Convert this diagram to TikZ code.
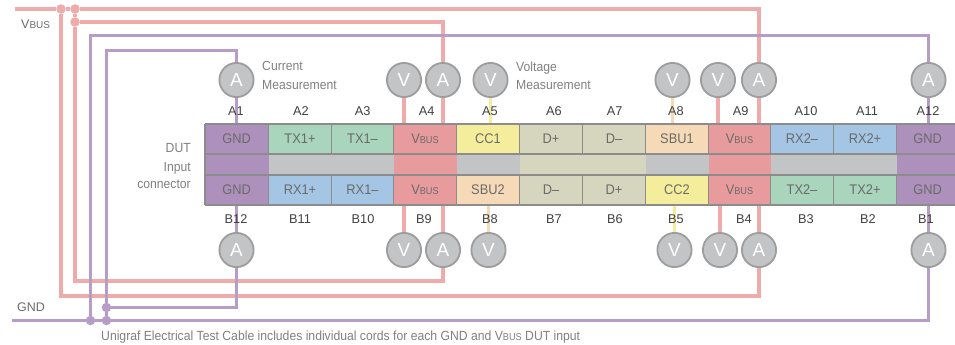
\documentclass[tikz,border=0pt]{standalone}
\usepackage{fontspec}
\setmainfont{Liberation Sans}
\newfontfamily\narrowf[FakeStretch=0.92]{Liberation Sans}
\usetikzlibrary{backgrounds}
\definecolor{wpink}{HTML}{EFAAAA}
\definecolor{wpurple}{HTML}{B89CC8}
\definecolor{cpink}{HTML}{E89B9D}
\definecolor{cpurple}{HTML}{AE90BC}
\definecolor{cgreen}{HTML}{A9D5BC}
\definecolor{cblue}{HTML}{A4C6E4}
\definecolor{cyellow}{HTML}{F4EE9C}
\definecolor{corange}{HTML}{F6DAB8}
\definecolor{colive}{HTML}{D6D6BE}
\definecolor{cgray}{HTML}{C3C4C6}
\definecolor{rulegray}{HTML}{8C8C8C}
\definecolor{txtgray}{HTML}{6A6A6A}
\newcommand{\vbus}{V{\fontsize{10}{10}\selectfont BUS}}
\newcommand{\pcell}[7]{\path (#2,#4) -- (#3,#5) node[midway,cellbox,fill=#6,minimum width={(#3-#2)*1bp},minimum height={(#5-#4)*1bp}] (#1) {#7};}
\tikzset{
  cellbox/.style={inner sep=0pt,text=txtgray,font=\narrowf\fontsize{14}{14}\selectfont},
  meter/.style={circle,draw=rulegray!85,fill=cgray,line width=1.8bp,minimum size=34.2bp,inner sep=0pt,text=white,font=\fontsize{19}{20}\selectfont},
  pinlabel/.style={text=black!75,font=\fontsize{12.8}{14}\selectfont,inner sep=0pt},
  note/.style={text=txtgray!85,font=\narrowf\fontsize{13.3}{14}\selectfont,inner sep=0pt},
  rule/.style={draw=rulegray,line width=2bp},
  pinkwire/.style={draw=wpink,line width=4bp},
  purplewire/.style={draw=wpurple,line width=3bp},
  yellowwire/.style={draw=cyellow,line width=3bp},
  orangewire/.style={draw=corange,line width=3bp},
  pinkdot/.style={circle,fill=wpink,inner sep=0pt,minimum size=9.5bp},
  purpledot/.style={circle,fill=wpurple,inner sep=0pt,minimum size=9.5bp}
}
\begin{document}
\begin{tikzpicture}[x=1bp,y=-1bp]
\useasboundingbox (0,0) rectangle (955,344);
% top row
\pcell{a1}{205}{268.5}{124}{154}{cpurple}{GND}
\pcell{a2}{268.5}{331.5}{124}{154}{cgreen}{TX1+}
\pcell{a3}{331.5}{393.5}{124}{154}{cgreen}{TX1–}
\pcell{a4}{393.5}{456.5}{124}{154}{cpink}{\vbus}
\pcell{a5}{456.5}{519.5}{124}{154}{cyellow}{CC1}
\pcell{a6}{519.5}{582.5}{124}{154}{colive}{D+}
\pcell{a7}{582.5}{645.5}{124}{154}{colive}{D–}
\pcell{a8}{645.5}{708.5}{124}{154}{corange}{SBU1}
\pcell{a9}{708.5}{770.5}{124}{154}{cpink}{\vbus}
\pcell{a10}{770.5}{833.5}{124}{154}{cblue}{RX2–}
\pcell{a11}{833.5}{896.5}{124}{154}{cblue}{RX2+}
\pcell{a12}{896.5}{955}{124}{154}{cpurple}{\hspace*{4pt}GND}
% middle strip
\pcell{m1}{205}{268.5}{154}{175}{cpurple}{}
\pcell{m2}{268.5}{393.5}{154}{175}{cgray}{}
\pcell{m3}{393.5}{456.5}{154}{175}{cpink}{}
\pcell{m4}{456.5}{519.5}{154}{175}{cgray}{}
\pcell{m5}{519.5}{645.5}{154}{175}{colive}{}
\pcell{m6}{645.5}{708.5}{154}{175}{cgray}{}
\pcell{m7}{708.5}{770.5}{154}{175}{cpink}{}
\pcell{m8}{770.5}{896.5}{154}{175}{cgray}{}
\pcell{m9}{896.5}{955}{154}{175}{cpurple}{}
% bottom row
\pcell{b12}{205}{268.5}{175}{205}{cpurple}{GND}
\pcell{b11}{268.5}{331.5}{175}{205}{cblue}{RX1+}
\pcell{b10}{331.5}{393.5}{175}{205}{cblue}{RX1–}
\pcell{b9}{393.5}{456.5}{175}{205}{cpink}{\vbus}
\pcell{b8}{456.5}{519.5}{175}{205}{corange}{SBU2}
\pcell{b7}{519.5}{582.5}{175}{205}{colive}{D–}
\pcell{b6}{582.5}{645.5}{175}{205}{colive}{D+}
\pcell{b5}{645.5}{708.5}{175}{205}{cyellow}{CC2}
\pcell{b4}{708.5}{770.5}{175}{205}{cpink}{\vbus}
\pcell{b3}{770.5}{833.5}{175}{205}{cgreen}{TX2–}
\pcell{b2}{833.5}{896.5}{175}{205}{cgreen}{TX2+}
\pcell{b1}{896.5}{955}{175}{205}{cpurple}{\hspace*{4pt}GND}
% rules
\foreach \n in {a1,a2,a3,a4,a5,a6,a7,a8,a9,a10,a11,b12,b11,b10,b9,b8,b7,b6,b5,b4,b3,b2}
  \draw[rule,line width=1bp] (\n.north east) -- (\n.south east);
\draw[rule] (a1.north west) -- (a12.north east);
\draw[rule] (a1.south west) -- (a12.south east);
\draw[rule] (b12.north west) -- (b1.north east);
\draw[rule] (b12.south west) -- (b1.south east);
\draw[rule] (a1.north west) -- (b12.south west);
% meters
\node[meter] (mA1) at (236.5,80) {A};
\node[meter] (mV4) at (404,80) {V};
\node[meter] (mA4) at (443,80) {A};
\node[meter] (mV5) at (490.5,80) {V};
\node[meter] (mV8) at (672.5,80) {V};
\node[meter] (mV9) at (718,80) {V};
\node[meter] (mA9) at (759,80) {A};
\node[meter] (mA12) at (928.5,80) {A};
\node[meter] (nA12) at (236.5,250) {A};
\node[meter] (nV9) at (404,250) {V};
\node[meter] (nA9) at (443,250) {A};
\node[meter] (nV8) at (488.5,250) {V};
\node[meter] (nV5) at (674.5,250) {V};
\node[meter] (nV4) at (720,250) {V};
\node[meter] (nA4) at (759,250) {A};
\node[meter] (nA1) at (928.5,250) {A};
% junctions and free ends
\coordinate (vbusIn) at (15,9);
\coordinate (gndIn) at (12,320.5);
\node[pinkdot] (p1) at (61,9) {};
\node[pinkdot] (p2) at (75,9) {};
\node[pinkdot] (p3) at (75,22) {};
\node[purpledot] (g1) at (90.5,320.5) {};
\node[purpledot] (g2) at (106.5,320.5) {};
\node[purpledot] (g3) at (106.5,307.5) {};
\coordinate (rPink1) at (61,296);
\coordinate (rPink2) at (75,281);
\coordinate (rPur1) at (90.5,35.5);
\coordinate (rPur2) at (106.5,50.5);
% connectors
\begin{pgfonlayer}{background}
\draw[pinkwire] (vbusIn) -- (p1) -- (p2) -| (mA9.north);
\draw[pinkwire] (p3) -| (mA4.north);
\draw[pinkwire] (p2) -- (p3) -- (rPink2) -| (nA9.south);
\draw[pinkwire] (p1) -- (rPink1) -| (nA4.south);
\draw[purplewire] (gndIn) -- (g1) -- (g2) -| (nA1.south);
\draw[purplewire] (g1) -- (rPur1) -| (mA12.north);
\draw[purplewire] (g2) -- (g3) -- (rPur2) -| (mA1.north);
\draw[purplewire] (g3) -| (nA12.south);
\draw[purplewire] (mA1.south) -- (mA1.south |- a1.north);
\draw[purplewire] (nA12.north) -- (nA12.north |- b12.south);
\draw[purplewire] (mA12.south) -- (mA12.south |- a12.north);
\draw[purplewire] (nA1.north) -- (nA1.north |- b1.south);
\draw[pinkwire] (mV4.south) -- (mV4.south |- a4.north);
\draw[pinkwire] (mA4.south) -- (mA4.south |- a4.north);
\draw[pinkwire] (mV9.south) -- (mV9.south |- a9.north);
\draw[pinkwire] (mA9.south) -- (mA9.south |- a9.north);
\draw[pinkwire] (nV9.north) -- (nV9.north |- b9.south);
\draw[pinkwire] (nA9.north) -- (nA9.north |- b9.south);
\draw[pinkwire] (nV4.north) -- (nV4.north |- b4.south);
\draw[pinkwire] (nA4.north) -- (nA4.north |- b4.south);
\draw[yellowwire] (mV5.south) -- (mV5.south |- a5.north);
\draw[orangewire] (mV8.south) -- (mV8.south |- a8.north);
\draw[orangewire] (nV8.north) -- (nV8.north |- b8.south);
\draw[yellowwire] (nV5.north) -- (nV5.north |- b5.south);
\end{pgfonlayer}
% pin labels
\foreach \t/\x in {A1/236,A2/301,A3/362.7,A4/426.7,A5/490,A6/554,A7/614.7,A8/676,A9/740.7,A10/806,A11/867,A12/928}
  \node[pinlabel] (lbl\t) at (\x,111) {\t};
\foreach \t/\x in {B12/236,B11/300,B10/363,B9/424,B8/490,B7/554,B6/615,B5/676,B4/744,B3/806,B2/868,B1/926}
  \node[pinlabel] (lbl\t) at (\x,219) {\t};
% notes
\node[note,anchor=base east] (dut1) at (191,152) {DUT};
\node[note,anchor=base east] (dut2) at (191,171) {Input};
\node[note,anchor=base east] (dut3) at (191,188) {connector};
\node[note,anchor=base west] (cm1) at (262,70) {Current};
\node[note,anchor=base west] (cm2) at (262,89) {Measurement};
\node[note,anchor=base west] (vm1) at (516,71) {Voltage};
\node[note,anchor=base west] (vm2) at (516,89) {Measurement};
\node[note,anchor=base west,text=txtgray,font=\fontsize{12.5}{14}\selectfont] (vl) at (21,28) {\vbus};
\node[note,anchor=base west,text=txtgray,font=\fontsize{12.5}{14}\selectfont] (gl) at (17,311) {GND};
\node[note,anchor=base west] (cap) at (101,340) {Unigraf Electrical Test Cable includes individual cords for each GND and {\vbus} DUT input};
\end{tikzpicture}
\end{document}
